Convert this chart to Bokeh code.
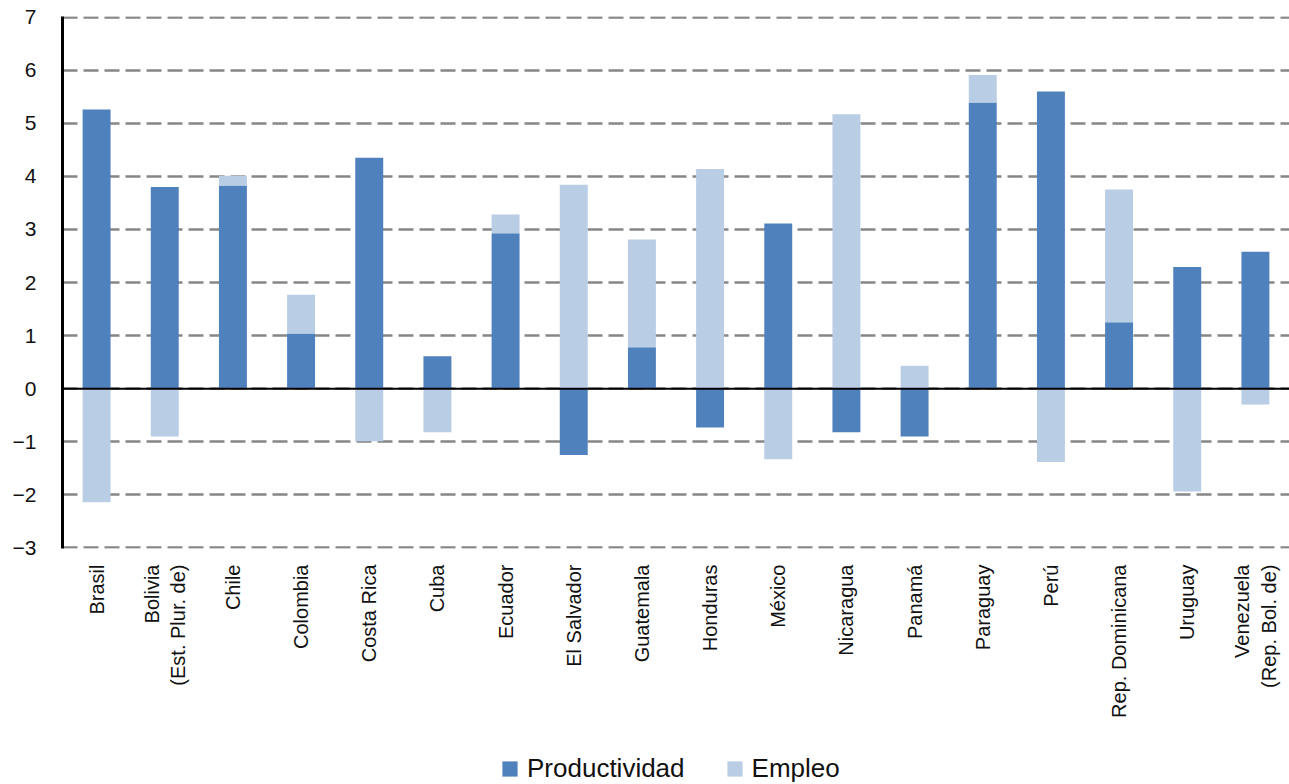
import numpy as np
from bokeh.plotting import figure
from bokeh.layouts import column
from bokeh.models import FactorRange, Range1d, Span, Legend, LegendItem, FixedTicker, ColumnDataSource
from bokeh.embed import file_html
from bokeh.resources import INLINE
from math import pi

categories = ["Brasil", "Bolivia\n(Est. Plur. de)", "Chile", "Colombia", "Costa Rica", "Cuba",
              "Ecuador", "El Salvador", "Guatemala", "Honduras", "México", "Nicaragua",
              "Panamá", "Paraguay", "Perú", "Rep. Dominicana", "Uruguay",
              "Venezuela\n(Rep. Bol. de)"]
productividad = [5.26, 3.80, 3.83, 1.04, 4.35, 0.61, 2.93, -1.25, 0.78, -0.73, 3.11, -0.82,
                 -0.90, 5.39, 5.60, 1.25, 2.29, 2.58]
empleo = [-2.14, -0.90, 0.18, 0.73, -0.99, -0.82, 0.35, 3.84, 2.03, 4.14, -1.33, 5.17,
          0.43, 0.52, -1.38, 2.50, -1.94, -0.30]
series_names = ["Productividad", "Empleo"]
y_ticks = list(range(-3, 8))

prod = np.array(productividad)
emp = np.array(empleo)
emp_base = np.where(np.sign(prod) == np.sign(emp), prod, 0.0)

src = ColumnDataSource(dict(cat=categories, p0=np.zeros(len(prod)), p1=prod,
                            e0=emp_base, e1=emp_base + emp))

DARK = "#4F81BD"
LIGHT = "#B9CDE5"

p = figure(x_range=FactorRange(*categories, range_padding=0), y_range=Range1d(-3.012, 7.012),
           width=1289, height=750, output_backend="svg", toolbar_location=None,
           min_border_left=62, min_border_right=0, min_border_top=16, min_border_bottom=202)
p.outline_line_color = None

r1 = p.vbar(x="cat", bottom="p0", top="p1", width=0.41, source=src, fill_color=DARK, line_color=None)
r2 = p.vbar(x="cat", bottom="e0", top="e1", width=0.41, source=src, fill_color=LIGHT, line_color=None)

p.xgrid.grid_line_color = None
p.ygrid.ticker = FixedTicker(ticks=y_ticks)
p.ygrid.grid_line_color = "#878787"
p.ygrid.grid_line_width = 2.5
p.ygrid.grid_line_dash = "15 6"

p.add_layout(Span(location=0, dimension="width", line_color="black", line_width=2))

p.yaxis.ticker = FixedTicker(ticks=y_ticks)
p.yaxis.axis_line_color = "black"
p.yaxis.axis_line_width = 3
p.yaxis.major_tick_line_color = None
p.yaxis.minor_tick_line_color = None
p.yaxis.major_label_text_font = "Liberation Sans"
p.yaxis.major_label_text_font_size = "21px"
p.yaxis.major_label_text_color = "#111111"
p.yaxis.major_label_standoff = 20

p.xaxis.axis_line_color = None
p.xaxis.major_tick_line_color = None
p.xaxis.minor_tick_line_color = None
p.xaxis.major_label_orientation = pi / 2
p.xaxis.major_label_text_font = "Liberation Sans"
p.xaxis.major_label_text_font_size = "20px"
p.xaxis.major_label_text_color = "#111111"
p.xaxis.major_label_standoff = 10

# legend strip below the chart (its bars sit outside its visible y range)
leg = figure(x_range=p.x_range, y_range=Range1d(50, 51), width=1289, height=34,
             output_backend="svg", toolbar_location=None, min_border=0)
leg.axis.visible = False
leg.grid.visible = False
leg.outline_line_color = None
l1 = leg.vbar(x="cat", bottom="p0", top="p1", width=0.41, source=src, fill_color=DARK, line_color=None)
l2 = leg.vbar(x="cat", bottom="e0", top="e1", width=0.41, source=src, fill_color=LIGHT, line_color=None)

legend = Legend(items=[LegendItem(label=series_names[0], renderers=[l1]),
                       LegendItem(label=series_names[1], renderers=[l2])],
                orientation="horizontal", location=(438, 0))
legend.border_line_color = None
legend.background_fill_alpha = 0
legend.padding = 0
legend.margin = 0
legend.spacing = 40
legend.label_standoff = 8
legend.glyph_width = 19
legend.glyph_height = 19
legend.label_text_font = "Liberation Sans"
legend.label_text_font_size = "26px"
legend.label_text_color = "#111111"
leg.add_layout(legend, "center")

open("out.html", "w").write(file_html(column(p, leg, spacing=0), INLINE))
